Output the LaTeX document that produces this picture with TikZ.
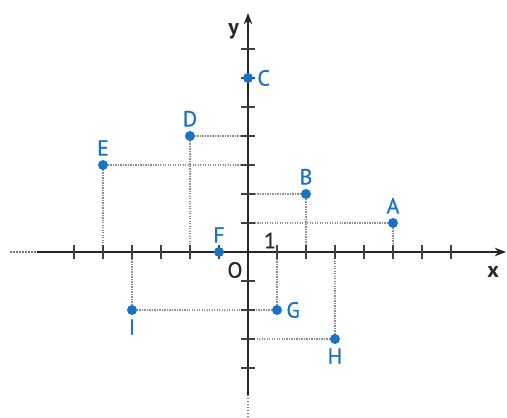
\documentclass[tikz,border=0pt]{standalone}
\usepackage{fontspec}
\setmainfont{PT Sans}
\newfontfamily\labfont{PT Sans}[FakeBold=0.7]
\usepackage{xcolor}
\definecolor{ptblue}{HTML}{1A72C2}
\usetikzlibrary{arrows.meta,backgrounds}
\tikzset{
  axisline/.style={line width=1.7pt, draw=black!85},
  axisarr/.style ={axisline, -{Stealth[length=4mm,width=3mm]}},
  axisdot/.style ={line width=1.6pt, draw=black!55, dash pattern=on 1.5pt off 1.5pt},
  tickmark/.style={line width=1.6pt, draw=black!75},
  guide/.style   ={line width=1.3pt, draw=black!45, dash pattern=on 1.2pt off 1.3pt},
  pt/.style      ={circle, fill=ptblue, inner sep=0pt, minimum size=10bp},
  ptlab/.style   ={text=ptblue, font=\labfont\fontsize{22}{26}\selectfont, inner sep=1pt,
                   label distance=3bp},
  axlab/.style   ={text=black!85, font=\labfont\fontsize{22}{26}\selectfont, inner sep=0pt},
}
\begin{document}
\begin{tikzpicture}[x=29bp, y=29bp]
  \useasboundingbox (-8.552,-5.690) rectangle (8.931,8.690);
  \coordinate (O) at (0,0);
  % axes
  \coordinate (xl) at (-8.2,0);
  \coordinate (xs) at (-7.28,0);
  \coordinate (xe) at (8.9,0);
  \coordinate (yl) at (0,-5.69);
  \coordinate (ys) at (0,-4.93);
  \coordinate (ye) at (0,8.24);
  \draw[axisdot] (xl) -- (xs);
  \draw[axisarr] (xs) -- (xe);
  \draw[axisdot] (yl) -- (ys);
  \draw[axisarr] (ys) -- (ye);
  \foreach \k in {-6,...,-1,1,2,...,7}
    \draw[tickmark] (\k,-0.25) -- (\k,0.25);
  \foreach \k in {-4,...,-1,1,2,...,7}
    \draw[tickmark] (-0.25,\k) -- (0.25,\k);
  \node[axlab, font=\fontsize{22}{26}\selectfont\bfseries] (xlab) at (8.45,-0.68) {x};
  \node[axlab, font=\fontsize{22}{26}\selectfont\bfseries] (ylab) at (-0.5,7.6) {y};
  \node[axlab] (olab) at (-0.45,-0.62) {O};
  \node[axlab] (one) at (0.76,0.4) {1};
  % points
  \node[pt, label={[ptlab]above:A}] (A) at (5,1)  {};
  \node[pt, label={[ptlab]above:B}] (B) at (2,2)  {};
  \node[pt, label={[ptlab]right:C}] (C) at (0,6)  {};
  \node[pt, label={[ptlab]above:D}] (D) at (-2,4) {};
  \node[pt, label={[ptlab]above:E}] (E) at (-5,3) {};
  \node[pt, label={[ptlab]above:F}] (F) at (-1,0) {};
  \node[pt, label={[ptlab]right:G}] (G) at (1,-2) {};
  \node[pt, label={[ptlab]below:H}] (H) at (3,-3) {};
  \node[pt, label={[ptlab]below:I}] (I) at (-4,-2){};
  % guide lines
  \begin{scope}[on background layer]
    \draw[guide] (A.center) -- (A.center |- O);
    \draw[guide] (A.center) -- (A.center -| O);
    \draw[guide] (B.center) -- (B.center |- O);
    \draw[guide] (B.center) -- (B.center -| O);
    \draw[guide] (D.center) -- (D.center |- O);
    \draw[guide] (D.center) -- (D.center -| O);
    \draw[guide] (E.center) -- (E.center |- O);
    \draw[guide] (E.center) -- (E.center -| O);
    \draw[guide] (G.center) -- (G.center |- O);
    \draw[guide] (G.center) -- (G.center -| O);
    \draw[guide] (H.center) -- (H.center |- O);
    \draw[guide] (H.center) -- (H.center -| O);
    \draw[guide] (I.center) -- (I.center |- O);
    \draw[guide] (I.center) -- (I.center -| O);
  \end{scope}
\end{tikzpicture}
\end{document}
